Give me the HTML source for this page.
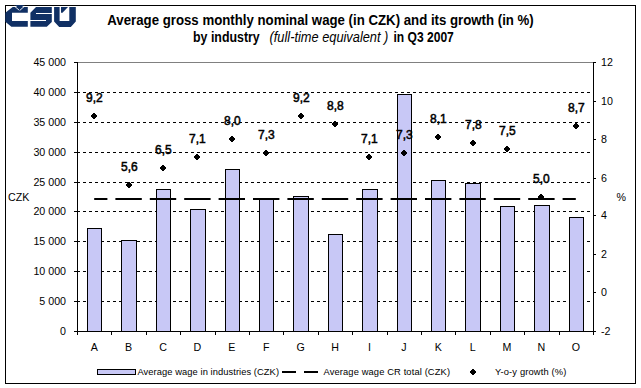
<!DOCTYPE html>
<html><head><meta charset="utf-8"><style>html,body{margin:0;padding:0;background:#fff;width:641px;height:388px;overflow:hidden;position:relative}</style></head>
<body><svg width="641" height="388" viewBox="0 0 641 388" style="position:absolute;left:0;top:0;font-family:'Liberation Sans', sans-serif"><rect x="0" y="0" width="641" height="388" fill="#fff"/><rect x="5.5" y="5.5" width="630" height="378" fill="none" stroke="#000" stroke-width="1"/><g shape-rendering="crispEdges"><line x1="78" y1="62.5" x2="593" y2="62.5" stroke="#808080" stroke-width="1"/><line x1="83" y1="92.5" x2="593" y2="92.5" stroke="#000" stroke-width="1" stroke-dasharray="3 3"/><line x1="83" y1="122.5" x2="593" y2="122.5" stroke="#000" stroke-width="1" stroke-dasharray="3 3"/><line x1="83" y1="152.5" x2="593" y2="152.5" stroke="#000" stroke-width="1" stroke-dasharray="3 3"/><line x1="83" y1="182.5" x2="593" y2="182.5" stroke="#000" stroke-width="1" stroke-dasharray="3 3"/><line x1="83" y1="211.5" x2="593" y2="211.5" stroke="#000" stroke-width="1" stroke-dasharray="3 3"/><line x1="83" y1="241.5" x2="593" y2="241.5" stroke="#000" stroke-width="1" stroke-dasharray="3 3"/><line x1="83" y1="271.5" x2="593" y2="271.5" stroke="#000" stroke-width="1" stroke-dasharray="3 3"/><line x1="83" y1="301.5" x2="593" y2="301.5" stroke="#000" stroke-width="1" stroke-dasharray="3 3"/><rect x="87.5" y="228.5" width="14" height="103" fill="#c8c8f6" stroke="#000" stroke-width="1"/><rect x="121.5" y="240.5" width="15" height="91" fill="#c8c8f6" stroke="#000" stroke-width="1"/><rect x="156.5" y="189.5" width="14" height="142" fill="#c8c8f6" stroke="#000" stroke-width="1"/><rect x="190.5" y="209.5" width="15" height="122" fill="#c8c8f6" stroke="#000" stroke-width="1"/><rect x="225.5" y="169.5" width="14" height="162" fill="#c8c8f6" stroke="#000" stroke-width="1"/><rect x="259.5" y="199.5" width="14" height="132" fill="#c8c8f6" stroke="#000" stroke-width="1"/><rect x="293.5" y="196.5" width="15" height="135" fill="#c8c8f6" stroke="#000" stroke-width="1"/><rect x="328.5" y="234.5" width="14" height="97" fill="#c8c8f6" stroke="#000" stroke-width="1"/><rect x="362.5" y="189.5" width="15" height="142" fill="#c8c8f6" stroke="#000" stroke-width="1"/><rect x="397.5" y="94.5" width="14" height="237" fill="#c8c8f6" stroke="#000" stroke-width="1"/><rect x="431.5" y="180.5" width="14" height="151" fill="#c8c8f6" stroke="#000" stroke-width="1"/><rect x="465.5" y="183.5" width="15" height="148" fill="#c8c8f6" stroke="#000" stroke-width="1"/><rect x="500.5" y="206.5" width="14" height="125" fill="#c8c8f6" stroke="#000" stroke-width="1"/><rect x="534.5" y="205.5" width="15" height="126" fill="#c8c8f6" stroke="#000" stroke-width="1"/><rect x="569.5" y="217.5" width="14" height="114" fill="#c8c8f6" stroke="#000" stroke-width="1"/><line x1="77.5" y1="62" x2="77.5" y2="332" stroke="#000" stroke-width="1"/><line x1="593.5" y1="62" x2="593.5" y2="332" stroke="#000" stroke-width="1"/><line x1="77" y1="331.5" x2="594" y2="331.5" stroke="#000" stroke-width="1"/><line x1="74" y1="62.5" x2="78" y2="62.5" stroke="#000" stroke-width="1"/><line x1="74" y1="92.5" x2="80" y2="92.5" stroke="#000" stroke-width="1"/><line x1="74" y1="122.5" x2="80" y2="122.5" stroke="#000" stroke-width="1"/><line x1="74" y1="152.5" x2="80" y2="152.5" stroke="#000" stroke-width="1"/><line x1="74" y1="182.5" x2="80" y2="182.5" stroke="#000" stroke-width="1"/><line x1="74" y1="211.5" x2="80" y2="211.5" stroke="#000" stroke-width="1"/><line x1="74" y1="241.5" x2="80" y2="241.5" stroke="#000" stroke-width="1"/><line x1="74" y1="271.5" x2="80" y2="271.5" stroke="#000" stroke-width="1"/><line x1="74" y1="301.5" x2="80" y2="301.5" stroke="#000" stroke-width="1"/><line x1="74" y1="331.5" x2="80" y2="331.5" stroke="#000" stroke-width="1"/><line x1="593" y1="62.5" x2="596" y2="62.5" stroke="#000" stroke-width="1"/><line x1="593" y1="101.5" x2="596" y2="101.5" stroke="#000" stroke-width="1"/><line x1="593" y1="139.5" x2="596" y2="139.5" stroke="#000" stroke-width="1"/><line x1="593" y1="178.5" x2="596" y2="178.5" stroke="#000" stroke-width="1"/><line x1="593" y1="215.5" x2="596" y2="215.5" stroke="#000" stroke-width="1"/><line x1="593" y1="254.5" x2="596" y2="254.5" stroke="#000" stroke-width="1"/><line x1="593" y1="292.5" x2="596" y2="292.5" stroke="#000" stroke-width="1"/><line x1="593" y1="331.5" x2="596" y2="331.5" stroke="#000" stroke-width="1"/><line x1="77.5" y1="331" x2="77.5" y2="335" stroke="#000" stroke-width="1"/><line x1="111.5" y1="331" x2="111.5" y2="335" stroke="#000" stroke-width="1"/><line x1="146.5" y1="331" x2="146.5" y2="335" stroke="#000" stroke-width="1"/><line x1="180.5" y1="331" x2="180.5" y2="335" stroke="#000" stroke-width="1"/><line x1="215.5" y1="331" x2="215.5" y2="335" stroke="#000" stroke-width="1"/><line x1="249.5" y1="331" x2="249.5" y2="335" stroke="#000" stroke-width="1"/><line x1="283.5" y1="331" x2="283.5" y2="335" stroke="#000" stroke-width="1"/><line x1="318.5" y1="331" x2="318.5" y2="335" stroke="#000" stroke-width="1"/><line x1="352.5" y1="331" x2="352.5" y2="335" stroke="#000" stroke-width="1"/><line x1="387.5" y1="331" x2="387.5" y2="335" stroke="#000" stroke-width="1"/><line x1="421.5" y1="331" x2="421.5" y2="335" stroke="#000" stroke-width="1"/><line x1="455.5" y1="331" x2="455.5" y2="335" stroke="#000" stroke-width="1"/><line x1="490.5" y1="331" x2="490.5" y2="335" stroke="#000" stroke-width="1"/><line x1="524.5" y1="331" x2="524.5" y2="335" stroke="#000" stroke-width="1"/><line x1="559.5" y1="331" x2="559.5" y2="335" stroke="#000" stroke-width="1"/><line x1="593.5" y1="331" x2="593.5" y2="335" stroke="#000" stroke-width="1"/></g><line x1="94.2" y1="199" x2="575.8" y2="199" stroke="#000" stroke-width="2" stroke-dasharray="26.4 8" stroke-dashoffset="13.2"/><g shape-rendering="crispEdges"><path d="M93 113h2v1h1v1h1v2h-1v1h-1v1h-2v-1h-1v-1h-1v-2h1v-1h1z" fill="#000"/><path d="M128 182h2v1h1v1h1v2h-1v1h-1v1h-2v-1h-1v-1h-1v-2h1v-1h1z" fill="#000"/><path d="M162 165h2v1h1v1h1v2h-1v1h-1v1h-2v-1h-1v-1h-1v-2h1v-1h1z" fill="#000"/><path d="M196 154h2v1h1v1h1v2h-1v1h-1v1h-2v-1h-1v-1h-1v-2h1v-1h1z" fill="#000"/><path d="M231 136h2v1h1v1h1v2h-1v1h-1v1h-2v-1h-1v-1h-1v-2h1v-1h1z" fill="#000"/><path d="M265 150h2v1h1v1h1v2h-1v1h-1v1h-2v-1h-1v-1h-1v-2h1v-1h1z" fill="#000"/><path d="M300 113h2v1h1v1h1v2h-1v1h-1v1h-2v-1h-1v-1h-1v-2h1v-1h1z" fill="#000"/><path d="M334 121h2v1h1v1h1v2h-1v1h-1v1h-2v-1h-1v-1h-1v-2h1v-1h1z" fill="#000"/><path d="M368 154h2v1h1v1h1v2h-1v1h-1v1h-2v-1h-1v-1h-1v-2h1v-1h1z" fill="#000"/><path d="M403 150h2v1h1v1h1v2h-1v1h-1v1h-2v-1h-1v-1h-1v-2h1v-1h1z" fill="#000"/><path d="M437 134h2v1h1v1h1v2h-1v1h-1v1h-2v-1h-1v-1h-1v-2h1v-1h1z" fill="#000"/><path d="M472 140h2v1h1v1h1v2h-1v1h-1v1h-2v-1h-1v-1h-1v-2h1v-1h1z" fill="#000"/><path d="M506 146h2v1h1v1h1v2h-1v1h-1v1h-2v-1h-1v-1h-1v-2h1v-1h1z" fill="#000"/><path d="M540 194h2v1h1v1h1v2h-1v1h-1v1h-2v-1h-1v-1h-1v-2h1v-1h1z" fill="#000"/><path d="M575 123h2v1h1v1h1v2h-1v1h-1v1h-2v-1h-1v-1h-1v-2h1v-1h1z" fill="#000"/><path d="M472 369h2v1h1v1h1v2h-1v1h-1v1h-2v-1h-1v-1h-1v-2h1v-1h1z" fill="#000"/></g><g font-size="12" text-anchor="middle" fill="#000" stroke="#000" stroke-width="0.5"><text x="94.3" y="102">9,2</text><text x="129.3" y="171">5,6</text><text x="163.3" y="154">6,5</text><text x="197.3" y="143">7,1</text><text x="232.3" y="125">8,0</text><text x="266.3" y="139">7,3</text><text x="301.3" y="102">9,2</text><text x="335.3" y="110">8,8</text><text x="369.3" y="143">7,1</text><text x="404.3" y="139">7,3</text><text x="438.3" y="123">8,1</text><text x="473.3" y="129">7,8</text><text x="507.3" y="135">7,5</text><text x="541.3" y="183">5,0</text><text x="576.3" y="112">8,7</text></g><g font-size="10.67" text-anchor="end" fill="#000"><text x="66" y="66.3">45 000</text><text x="66" y="96.3">40 000</text><text x="66" y="126.3">35 000</text><text x="66" y="156.3">30 000</text><text x="66" y="186.3">25 000</text><text x="66" y="215.3">20 000</text><text x="66" y="245.3">15 000</text><text x="66" y="275.3">10 000</text><text x="66" y="305.3">5 000</text><text x="66" y="335.3">0</text></g><g font-size="10.67" text-anchor="start" fill="#000"><text x="601" y="66.3">12</text><text x="601" y="105.3">10</text><text x="601" y="143.3">8</text><text x="601" y="182.3">6</text><text x="601" y="219.3">4</text><text x="601" y="258.3">2</text><text x="601" y="296.3">0</text><text x="601" y="335.3">-2</text></g><g font-size="10.67" text-anchor="middle" fill="#000"><text x="94.2" y="351">A</text><text x="128.6" y="351">B</text><text x="163.0" y="351">C</text><text x="197.4" y="351">D</text><text x="231.8" y="351">E</text><text x="266.2" y="351">F</text><text x="300.6" y="351">G</text><text x="335.0" y="351">H</text><text x="369.4" y="351">I</text><text x="403.8" y="351">J</text><text x="438.2" y="351">K</text><text x="472.6" y="351">L</text><text x="507.0" y="351">M</text><text x="541.4" y="351">N</text><text x="575.8" y="351">O</text></g><text x="8" y="201" font-size="10.67" fill="#000">CZK</text><text x="616.5" y="201" font-size="10.67" fill="#000">%</text><text transform="translate(107.3,25) scale(0.946,1)" x="0" y="0" font-size="14" font-weight="bold" fill="#000">Average gross monthly nominal wage (in CZK) and its growth (in %)</text><text transform="translate(193,42) scale(0.901,1)" font-size="13.75" font-weight="bold" fill="#000">by industry</text><text transform="translate(269.5,42) scale(0.932,1)" font-size="13.75" font-style="italic" fill="#000">(full-time equivalent )</text><text transform="translate(393.5,42) scale(0.878,1)" font-size="13.75" font-weight="bold" fill="#000">in Q3 2007</text><rect x="97.5" y="369.5" width="38" height="5" fill="#c8c8f6" stroke="#000" stroke-width="1" shape-rendering="crispEdges"/><g font-size="9.33" fill="#000"><text x="137.5" y="375" textLength="141.5" lengthAdjust="spacing">Average wage in industries (CZK)</text><text x="323.5" y="375" textLength="126.5" lengthAdjust="spacing">Average wage CR total (CZK)</text><text x="495" y="375" textLength="71.3" lengthAdjust="spacing">Y-o-y growth (%)</text></g><g shape-rendering="crispEdges"><rect x="282" y="371" width="14" height="2" fill="#000"/><rect x="304" y="371" width="14" height="2" fill="#000"/></g><g fill="#103064"><path d="M12.7 7H27.8V12.7H12V21H27.8V26.8H11.4L5.3 21.7V12.7Z"/><path d="M36 7H51.8V13H36V14H51.8V22L46.8 26.8H30.4V21H46V20H30.4V12.7Z"/><path d="M54.1 7H59.6V21.1H69.3V7H75.8V21.5L70.8 26.9H59.2L54.1 21.5Z"/><path d="M61 7H68L62.5 12.8H61Z"/></g><path d="M14.6 6.3L19.3 10.3M19.9 10.3L24.4 6.3" stroke="#fff" stroke-width="0.9" fill="none"/><path d="M15 5H24.2L19.6 9.4Z" fill="#103064"/></svg></body></html>
